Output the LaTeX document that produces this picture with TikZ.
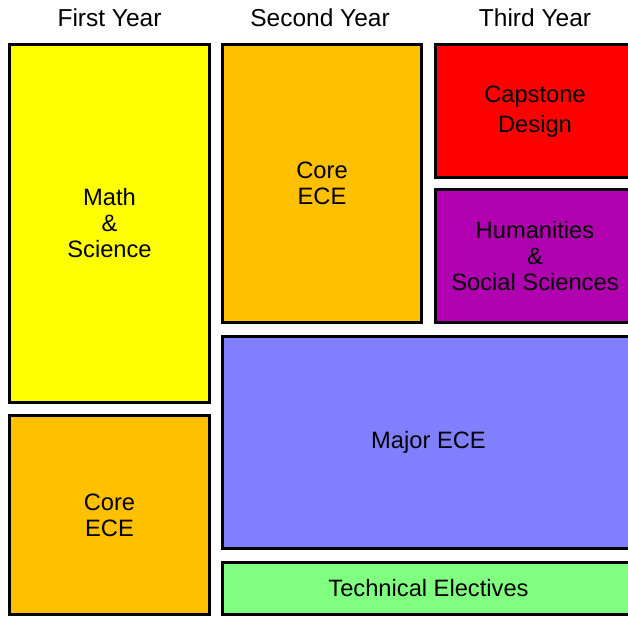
\documentclass[tikz,border=0pt]{standalone}
\usepackage{fontspec}
\setmainfont{Liberation Sans}
\definecolor{mathyellow}{HTML}{FFFF00}
\definecolor{coreorange}{HTML}{FFC000}
\definecolor{capred}{HTML}{FF0000}
\definecolor{humpurple}{HTML}{B000B0}
\definecolor{majorblue}{HTML}{8080FF}
\definecolor{techgreen}{HTML}{80FF80}
\begin{document}
\begin{tikzpicture}[x=1pt,y=-1pt,
  blockbox/.style={draw=black, line width=3pt, inner sep=0pt, align=center,
    font=\fontsize{23.7}{26}\selectfont},
  yearhead/.style={anchor=base, inner sep=0pt, font=\fontsize{24.5}{28}\selectfont}]
\useasboundingbox (0,0) rectangle (628,617);
\clip (0,0) rectangle (628,617);

% column headings
\node[yearhead] (y1) at (109.5,26.7) {First Year};
\node[yearhead] (y2) at (320,26.7) {Second Year};
\node[yearhead] (y3) at (535,26.7) {Third Year};

% first year
\node[blockbox, fill=mathyellow, minimum width=200pt, minimum height=358pt]
  (math) at (109.5,223.5) {Math\\\&\\Science};
\node[blockbox, fill=coreorange, minimum width=200pt, minimum height=199pt]
  (core1) at (109.5,515) {Core\\ECE};

% second year
\node[blockbox, fill=coreorange, minimum width=199pt, minimum height=278pt]
  (core2) at (322,183.5) {Core\\ECE};

% third year
\node[blockbox, fill=capred, minimum width=199pt, minimum height=133pt]
  (cap) at (535,111) {};
\node (captext) at (535,112) [align=center, inner sep=0pt,
    font=\fontsize{23.7}{26}\selectfont] {Capstone\\[4pt]Design};
\node[blockbox, fill=humpurple, minimum width=199pt, minimum height=133pt]
  (hum) at (535,256) {Humanities\\\&\\Social Sciences};

% spanning blocks
\node[blockbox, fill=majorblue, minimum width=412pt, minimum height=212pt]
  (major) at (428.5,442.5) {Major ECE};
\node[blockbox, fill=techgreen, minimum width=412pt, minimum height=52pt]
  (tech) at (428.5,588.5) {Technical Electives};
\end{tikzpicture}
\end{document}
